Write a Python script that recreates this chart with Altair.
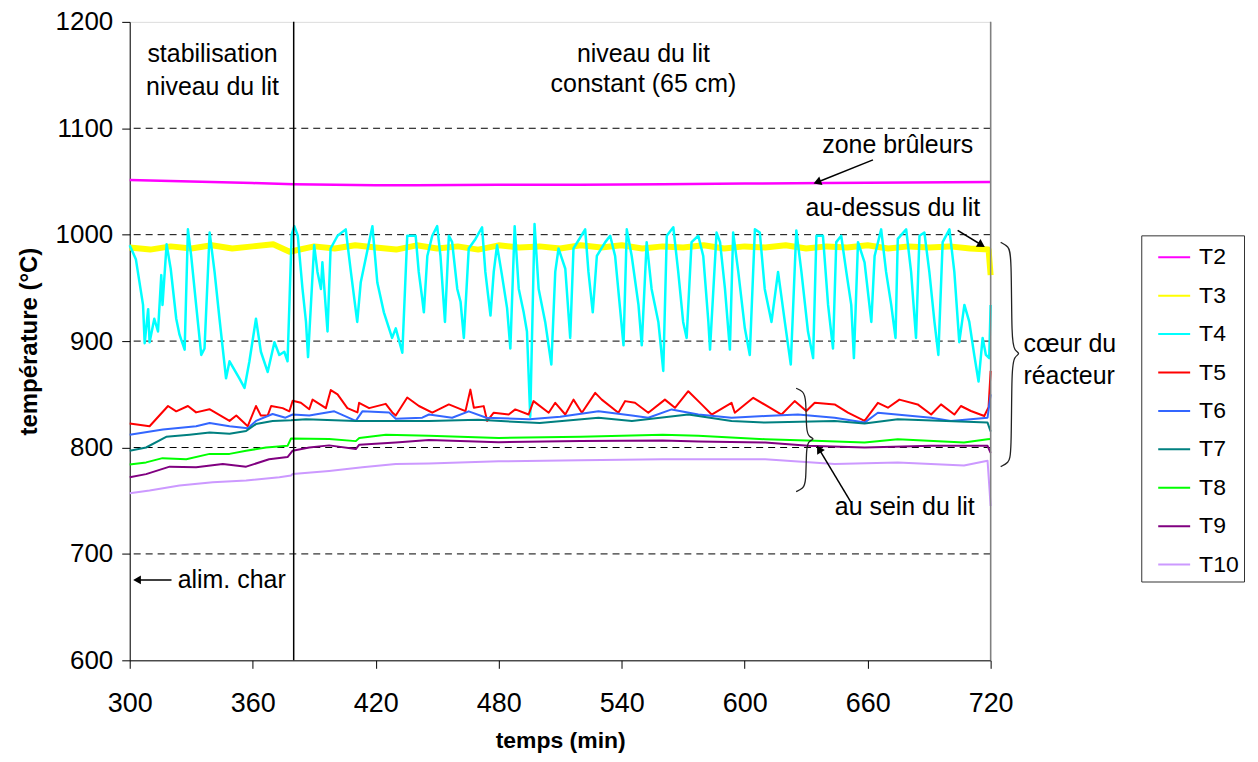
import altair as alt
import pandas as pd

FONT = "Liberation Sans"

SERIES = ["T2", "T3", "T4", "T5", "T6", "T7", "T8", "T9", "T10"]
COLORS = ["#FF00FF", "#FFFF00", "#00FFFF", "#FF0000", "#3366FF", "#008080", "#00FF00", "#800080", "#CC99FF"]
WIDTHS = [2.5, 6, 2.5, 2, 2, 2, 2, 2, 2]

X_TICKS = [300, 360, 420, 480, 540, 600, 660, 720]
Y_TICKS = [600, 700, 800, 900, 1000, 1100, 1200]
GRID_Y = [700, 800, 900, 1000, 1100]

T2_t = [300, 320, 340, 360, 380, 400, 420, 440, 480, 520, 560, 600, 640, 680, 720]
T2_v = [1051.5, 1050.5, 1049.5, 1048.5, 1047.5, 1047, 1046.5, 1046.5, 1047, 1047, 1047.5, 1048, 1048.5, 1049, 1049.5]

T3_t = [300, 310, 320, 330, 340, 350, 360, 370, 378, 390, 400, 410, 420, 430, 440, 450, 460, 470, 480, 490,
        500, 510, 520, 530, 540, 550, 560, 570, 580, 590, 600, 610, 620, 630, 640, 650, 660, 670, 680, 690,
        700, 710, 719, 720]
T3_v = [988, 986, 989, 987, 990, 987, 989, 991, 984, 989, 987, 990, 988, 986, 990, 987, 989, 986, 990, 988,
        989, 987, 990, 988, 990, 987, 989, 988, 990, 987, 989, 988, 990, 987, 989, 988, 990, 987, 989, 988,
        989, 987, 986, 962]

T4_t = [300, 303, 306.5, 307.3, 309, 309.7, 312, 313.8, 315.4, 316, 318, 320, 322.7, 324.3, 326.8, 328.4,
        330, 332.4, 334.9, 336.5, 339, 341.4, 343.8, 347, 348.7, 353.5, 356, 358.4, 361.6, 364, 367.3, 370.6,
        373, 375.4, 377, 378, 379, 380.3, 382, 384.3, 386, 387, 388.4, 390, 391.6, 393.3, 394, 396.5, 398,
        401.4, 405.4, 407.9, 411, 412.7, 418.4, 420.8, 424, 428, 429.8, 433, 435.4, 439.5, 441, 442.7, 443.5,
        445.2, 447.6, 450, 451.6, 453.8, 455.7, 457.3, 459.8, 461.4, 463, 465.4, 468.7, 471.9, 473.5, 476,
        477.6, 479.2, 481.6, 484.1, 485.7, 487.8, 489.8, 492.2, 493.8, 495.4, 497.5, 499.5, 502.7, 505.7,
        507.6, 509.2, 512.5, 514.9, 516.5, 522.2, 523.8, 525.9, 527.9, 532, 534.4, 536.8, 539.2, 540.9,
        542.5, 544.9, 548.2, 549.8, 552.2, 554.6, 557.9, 560.3, 562, 565.2, 567.6, 570, 571.7, 574.1, 577.4,
        579.8, 582.3, 583.1, 586.3, 588, 590.4, 592.8, 594.4, 596.9, 600.1, 602.5, 605, 607.4, 609.8, 613.1,
        616.3, 619.6, 622.5, 625.2, 627.7, 630.9, 633.4, 635, 638.2, 640.7, 643.1, 644.7, 647.1, 649.6, 652,
        653.3, 655.3, 658.5, 661.8, 663.4, 666.6, 669, 671.5, 673.6, 674.7, 678.8, 681.2, 683.6, 685.3, 687.7,
        690.1, 692.6, 694.5, 696.6, 699.9, 702.3, 704.7, 707.2, 709.6, 712, 714.1, 716.1, 717.7, 719.3, 720]
T4_v = [990, 977, 934, 898, 930, 899, 921, 909, 962, 934, 991, 968, 921, 906, 892, 1005,
        980, 934, 887, 893, 1002, 965, 921, 865, 881, 865, 856, 881, 921, 890, 871, 899,
        887, 890, 881, 940, 1000, 1008, 999, 949, 918, 885, 934, 990, 965, 949, 974, 909, 987,
        999, 1005, 965, 918, 955, 1008, 955, 927, 903, 912, 889, 999, 999, 965, 940, 927,
        980, 999, 1008, 980, 918, 999, 993, 949, 937, 903, 987, 996, 1007, 965, 924,
        965, 990, 962, 931, 893, 1008, 949, 927, 909, 829, 1010, 949, 918, 878,
        965, 987, 968, 903, 987, 1005, 965, 927, 980, 993, 999, 980, 931, 896,
        1005, 980, 934, 896, 993, 949, 918, 872, 999, 1007, 965, 918, 903, 993, 999,
        980, 918, 892, 1002, 993, 949, 892, 1002, 965, 912, 887, 1005, 1002, 949, 918,
        965, 918, 878, 1004, 965, 909, 884, 999, 999, 934, 893, 993, 999, 965, 934,
        884, 993, 974, 918, 980, 1005, 965, 934, 903, 996, 1005, 965, 903, 999, 1002,
        965, 918, 887, 993, 1005, 965, 899, 934, 918, 887, 862, 903, 887, 884, 934]

T5_t = [300, 309.7, 318.7, 322.7, 328.4, 332.4, 338.9, 348.7, 352, 357.6, 361.6, 364, 367.3, 369, 374.6,
        377.9, 379.5, 383.5, 387.6, 389.2, 395.7, 398.1, 401.4, 406.2, 411.1, 411.9, 416.8, 424.9, 428.1,
        429.8, 435.4, 441.1, 447.6, 455.7, 463.8, 466.2, 467.9, 472.7, 474.4, 477.6, 484.9, 488.1, 494.6,
        497, 504.4, 507.6, 512.5, 516.5, 520.6, 527.1, 530.3, 538.4, 541.7, 546.5, 553, 561.1, 566, 572.5,
        579, 583.9, 593.6, 595.2, 604.2, 612.3, 618, 624.4, 630.1, 634.2, 643.9, 650.4, 658.5, 665, 669.9,
        675.5, 684.4, 691, 695.8, 702.3, 705.5, 710.4, 716.9, 719, 720]
T5_v = [822.5, 820, 839, 834, 839, 833, 836, 825, 830, 820, 839, 830, 830, 839, 837,
        834, 844, 842, 836, 845, 837, 854, 850, 837, 833, 842, 837, 841, 833,
        830, 847, 839, 832.7, 840.5, 834.2, 854.4, 837.3, 838.9, 825, 832.7, 831, 835.8, 831,
        843.6, 832.7, 842, 831, 845, 832.7, 851.3, 845, 832.7, 843.6, 842, 832.7, 845, 837.3, 852.9,
        840.5, 831, 842, 832.7, 846.7, 837.4, 831, 843.6, 834.3, 842, 840.5, 832.7, 825, 842, 837.4,
        845, 840.5, 831, 840.5, 831, 839, 834.3, 829.6, 838, 872]

T6_t = [300, 316.2, 332.4, 339, 348.7, 357.6, 361.6, 369.7, 376, 379.5, 387.6, 399.8, 410.3, 413.5, 426.5,
        429.8, 442.7, 446, 457.3, 465.4, 474, 495, 510, 528.7, 545, 553, 564.4, 577.4, 593.6, 610, 626,
        643.9, 658.5, 665, 691, 700.6, 718.5, 720]
T6_v = [812, 817, 820, 823, 820, 818, 825, 831.5, 828, 831, 830, 834, 825, 834, 833,
        827, 828, 831, 828, 834, 828, 826.5, 829, 834, 830, 828, 835.8, 831, 828, 829.6, 831,
        828, 823.4, 832.7, 828, 825, 828, 850]

T7_t = [300, 308, 317.8, 329.2, 339, 348.7, 356.8, 361.6, 369.7, 378.7, 386, 410.3, 446, 470, 500, 528.7,
        545, 572.5, 577.4, 593.6, 610, 643.9, 658.5, 674.7, 718.5, 720]
T7_v = [797, 800, 810, 812, 814, 813, 815.6, 822, 825, 825.6, 826.5, 825, 825, 826, 823, 828,
        825, 831, 829.6, 825, 823.4, 825, 822.5, 826.5, 823.4, 815]

T8_t = [300, 308, 316, 327.6, 339, 348.7, 356.8, 366.5, 377, 378.7, 397.3, 410.3, 412, 425, 446, 480, 520,
        560, 577.4, 610, 634.2, 658.5, 674.7, 707, 718.5, 720]
T8_v = [784, 786, 790, 789, 794, 794, 797, 800, 801.6, 808.5, 808, 806, 809, 812, 811, 809, 810,
        812, 811, 807.8, 806.3, 804.7, 807.8, 804.7, 807.8, 808]

T9_t = [300, 308, 319.5, 332.4, 345.4, 356.8, 368, 377, 379.5, 387.6, 397.3, 410.3, 412, 429.8, 446, 480,
        520, 560, 577.4, 610, 631, 658.5, 691, 718.5, 720]
T9_v = [772, 775, 782, 781.4, 784.5, 782, 789, 791, 797, 800, 802, 798.5, 802.6, 804.7, 807, 805,
        806, 806.5, 805.7, 804.7, 801.6, 800, 801.6, 801.6, 795]

T10_t = [300, 309.7, 324.3, 340.5, 356.8, 373, 378.7, 379.5, 397.3, 413.5, 429.8, 446, 480, 520, 560,
         577.4, 610, 643.9, 674.7, 707, 718.5, 720]
T10_v = [757, 759.6, 764.3, 767.4, 769, 772, 773.6, 775, 778, 781.4, 784.5, 785, 787, 788, 789,
         789, 789, 784.5, 786, 783, 787.6, 745]

ALL_T = [T2_t, T3_t, T4_t, T5_t, T6_t, T7_t, T8_t, T9_t, T10_t]
ALL_V = [T2_v, T3_v, T4_v, T5_v, T6_v, T7_v, T8_v, T9_v, T10_v]

# phase markers
PHASE_X = [380]
EDGE_X = [720]

# text annotations (centered)
TXT_C = ["stabilisation", "niveau du lit", "niveau du lit", "constant (65 cm)",
         "zone brûleurs", "au-dessus du lit", "au sein du lit"]
TXT_C_T = [340.4, 340.4, 550.6, 550.6, 674.7, 672.3, 678.1]
TXT_C_V = [1170, 1139, 1170, 1142, 1084.3, 1025.5, 743.7]
# left aligned
TXT_L = ["alim. char", "cœur du", "réacteur"]
TXT_L_T = [323.4, 736.0, 736.0]
TXT_L_V = [675.6, 897.7, 866.9]

# arrows: start (t, v) -> head (t, v), head angle
ARR_T1 = [662.6, 703.9, 651.9, 320.4]
ARR_V1 = [1070.3, 1004, 748.4, 675.6]
ARR_T2 = [636.0, 715.0, 636.6, 304.2]
ARR_V2 = [1049.8, 991, 797.5, 675.6]
ARR_ANG = [249, 121, 329, 270]

# braces
BR1_T = [724.9, 728.7, 730.2, 730.2, 731.7, 734.6, 731.7, 730.2, 730.2, 728.7, 724.9]
BR1_V = [992.8, 989, 981.6, 899.5, 891.1, 888.3, 885.5, 877.1, 792.2, 785.7, 782]
BR2_T = [625.1, 628.5, 630.0, 630.0, 631.4, 634.3, 631.4, 630.0, 630.0, 628.5, 625.1]
BR2_V = [855.7, 852.9, 846.4, 815.6, 810, 808.1, 806.2, 800.6, 767, 761.4, 758.6]

rows = []
for s, w, ts, vs in zip(SERIES, WIDTHS, ALL_T, ALL_V):
    for t, v in zip(ts, vs):
        rows.append({"s": s, "t": t, "v": v, "w": w})
df = pd.DataFrame(rows)

xs = alt.Scale(domain=[300, 720], nice=False, zero=False)
ys = alt.Scale(domain=[600, 1200], nice=False, zero=False)

x_axis = alt.Axis(values=X_TICKS, title="temps (min)", grid=False, format="d", labelFont=FONT, labelFontSize=27,
                  labelColor="black", titleFont=FONT, titleFontSize=23, titleFontWeight="bold",
                  titleColor="black", tickSize=8, tickColor="black", domainColor="black",
                  labelPadding=22, titlePadding=13, labelFlush=False, labelOverlap=False)
y_axis = alt.Axis(values=Y_TICKS, title="température (°C)", grid=False, format="d", labelFont=FONT,
                  labelFontSize=26, labelColor="black", titleFont=FONT, titleFontSize=24,
                  titleFontWeight="bold", titleColor="black", tickSize=8, tickColor="black",
                  domainColor="black", labelPadding=9, titlePadding=14, labelFlush=False,
                  labelOverlap=False)

grid = alt.Chart(pd.DataFrame({"v": GRID_Y})).mark_rule(
    color="black", strokeDash=[7, 5], strokeWidth=1
).encode(y=alt.Y("v:Q", scale=ys, axis=y_axis))

lines = alt.Chart(df).mark_line(strokeJoin="round").encode(
    x=alt.X("t:Q", scale=xs, axis=x_axis),
    y=alt.Y("v:Q", scale=ys),
    color=alt.Color("s:N", scale=alt.Scale(domain=SERIES, range=COLORS),
                    legend=alt.Legend(title=None, orient="none", legendX=1014, legendY=214,
                                      symbolType="stroke", symbolSize=1024, symbolStrokeWidth=2,
                                      labelFont=FONT, labelFontSize=23, labelColor="black",
                                      labelOffset=8, rowPadding=9.5, padding=5, symbolOffset=11,
                                      strokeColor="#333333", fillColor="white")),
    strokeWidth=alt.StrokeWidth("w:Q", scale=None, legend=None),
)

phase = alt.Chart(pd.DataFrame({"t": PHASE_X})).mark_rule(color="black", strokeWidth=1.5).encode(
    x=alt.X("t:Q", scale=xs))
edge = alt.Chart(pd.DataFrame({"t": EDGE_X})).mark_rule(color="#808080", strokeWidth=1.5).encode(
    x=alt.X("t:Q", scale=xs))

txt_c = alt.Chart(pd.DataFrame({"t": TXT_C_T, "v": TXT_C_V, "txt": TXT_C})).mark_text(
    font=FONT, fontSize=25, color="black", align="center", baseline="middle"
).encode(x=alt.X("t:Q", scale=xs), y=alt.Y("v:Q", scale=ys), text="txt:N")

txt_l = alt.Chart(pd.DataFrame({"t": TXT_L_T, "v": TXT_L_V, "txt": TXT_L})).mark_text(
    font=FONT, fontSize=25, color="black", align="left", baseline="middle"
).encode(x=alt.X("t:Q", scale=xs), y=alt.Y("v:Q", scale=ys), text="txt:N")

arr_df = pd.DataFrame({"t1": ARR_T1, "v1": ARR_V1, "t2": ARR_T2, "v2": ARR_V2, "ang": ARR_ANG})
shafts = alt.Chart(arr_df).mark_rule(color="black", strokeWidth=1.5).encode(
    x=alt.X("t1:Q", scale=xs), y=alt.Y("v1:Q", scale=ys), x2="t2:Q", y2="v2:Q")
heads = alt.Chart(arr_df).mark_point(shape="triangle", filled=True, color="black", size=80, opacity=1).encode(
    x=alt.X("t2:Q", scale=xs), y=alt.Y("v2:Q", scale=ys), angle=alt.Angle("ang:Q", scale=None))

br_rows = []
for i, (t, v) in enumerate(zip(BR1_T, BR1_V)):
    br_rows.append({"b": "a", "i": i, "t": t, "v": v})
for i, (t, v) in enumerate(zip(BR2_T, BR2_V)):
    br_rows.append({"b": "b", "i": i, "t": t, "v": v})
braces = alt.Chart(pd.DataFrame(br_rows)).mark_line(color="#222222", strokeWidth=1.3, interpolate="basis").encode(
    x=alt.X("t:Q", scale=xs), y=alt.Y("v:Q", scale=ys), order="i:Q", detail="b:N")

chart = alt.layer(grid, lines, phase, edge, braces, shafts, heads, txt_c, txt_l).properties(
    width=863, height=640,
    autosize=alt.AutoSizeParams(type="none"),
    padding={"left": 122, "top": 13, "right": 260, "bottom": 93},
).configure_view(stroke=None).configure(background="white")

chart.save("out.html", embed_options={"renderer": "svg", "actions": False})
